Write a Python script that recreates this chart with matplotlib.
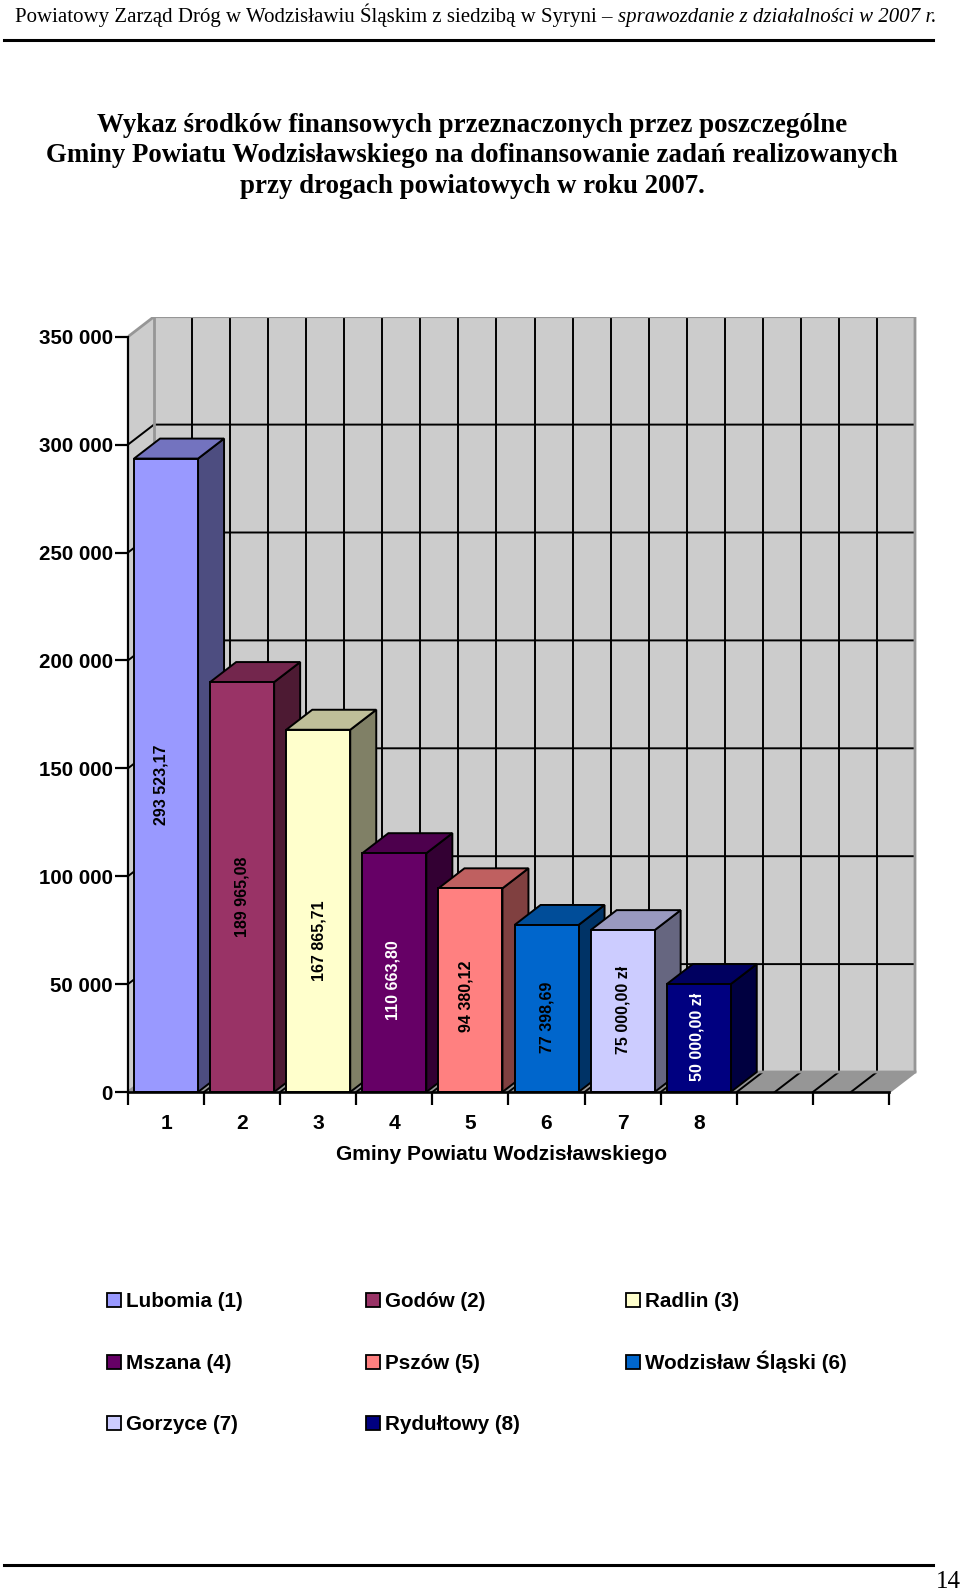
import matplotlib
matplotlib.use("Agg")
import matplotlib.pyplot as plt
from matplotlib.patches import Polygon, Rectangle
from matplotlib.lines import Line2D

W, H = 960, 1591

# Chart data
categories = [1, 2, 3, 4, 5, 6, 7, 8]
values = [293523.17, 189965.08, 167865.71, 110663.80, 94380.12, 77398.69, 75000.00, 50000.00]
value_labels = ["293 523,17", "189 965,08", "167 865,71", "110 663,80",
                "94 380,12", "77 398,69", "75 000,00 zł", "50 000,00 zł"]
legend_names = ["Lubomia (1)", "Godów (2)", "Radlin (3)", "Mszana (4)", "Pszów (5)",
                "Wodzisław Śląski (6)", "Gorzyce (7)", "Rydułtowy (8)"]
y_ticks = [0, 50000, 100000, 150000, 200000, 250000, 300000, 350000]
y_tick_labels = ["0", "50 000", "100 000", "150 000", "200 000", "250 000", "300 000", "350 000"]

# Styling
bar_colors = ["#9999FF", "#993366", "#FFFFCC", "#660066", "#FF8080", "#0066CC", "#CCCCFF", "#000080"]
label_colors = ["black", "black", "black", "white", "black", "black", "black", "white"]
label_levels = [142300, 90400, 70000, 51900, 44500, 34800, 38000, 25500]
label_shift_px = [-5, 0, 1, -1, -4, 0, 0, -2]
sans = "Liberation Sans"
serif = "Liberation Serif"

# Plot geometry, in pixels of the page
x_left, x_right = 128, 917
y_bottom, y_top = 1092, 317
cat_px = 76.1
val_px = 107.9 / 50000


def shade(color, f):
    rgb = matplotlib.colors.to_rgb(color)
    return tuple(c * f for c in rgb)


def fx(x):
    return x / W


def fy(y):
    return 1 - y / H


fig = plt.figure(figsize=(W / 100, H / 100), dpi=100, facecolor="white")
ax = fig.add_axes([fx(x_left), fy(y_bottom), (x_right - x_left) / W, (y_bottom - y_top) / H])
ax.set_xlim(0.5, 0.5 + (x_right - x_left) / cat_px)
ax.set_ylim(0, (y_bottom - y_top) / val_px)
ax.patch.set_visible(False)
for s in ax.spines.values():
    s.set_visible(False)

# depth of the 3d box in data units
dx = 26 / cat_px
dy = 20 / val_px
n_slots = 10
x0 = 0.5
x1 = x0 + n_slots
top = y_ticks[-1]
GRID = 1.4
EDGE = 1.4

# walls and floor
ax.add_patch(Polygon([(x0, 0), (x0 + dx, dy), (x0 + dx, top + dy), (x0, top)], fc="#CCCCCC", ec="none", zorder=1))
ax.add_patch(Polygon([(x0 + dx, dy), (x1 + dx, dy), (x1 + dx, top + dy), (x0 + dx, top + dy)], fc="#CCCCCC", ec="none", zorder=1))
ax.add_patch(Polygon([(x0, 0), (x1, 0), (x1 + dx, dy), (x0 + dx, dy)], fc="#969696", ec="none", zorder=1))

# grid
for v in y_ticks[1:-1]:
    ax.plot([x0, x0 + dx, x1 + dx], [v, v + dy, v + dy], color="black", lw=GRID, zorder=2)
for i in range(1, 2 * n_slots):
    xv = x0 + i / 2
    ax.plot([xv + dx, xv + dx], [dy, top + dy], color="black", lw=GRID, zorder=2)
    ax.plot([xv, xv + dx], [0, dy], color="black", lw=GRID, zorder=2)

# grey wall borders
wall_edge = "#969696"
ax.plot([x0, x0 + dx, x1 + dx, x1 + dx, x1], [top, top + dy, top + dy, dy, 0], color=wall_edge, lw=2, zorder=3)
ax.plot([x0, x0 + dx, x1 + dx], [0, dy, dy], color=wall_edge, lw=2, zorder=3)
ax.plot([x0 + dx, x0 + dx], [dy, top + dy], color=wall_edge, lw=2, zorder=3)

# bars, left to right so the later ones overlap the sides of the earlier ones
bar_w = 64 / cat_px
bar_dx = 26 / cat_px
for i, (c, v) in enumerate(zip(categories, values)):
    left = c - bar_w / 2
    right = c + bar_w / 2
    z = 4 + i * 0.1
    col = bar_colors[i]
    ax.add_patch(Polygon([(right, 0), (right + bar_dx, dy), (right + bar_dx, v + dy), (right, v)],
                         fc=shade(col, 0.5), ec="black", lw=EDGE, joinstyle="miter", zorder=z))
    ax.add_patch(Polygon([(left, v), (right, v), (right + bar_dx, v + dy), (left + bar_dx, v + dy)],
                         fc=shade(col, 0.75), ec="black", lw=EDGE, joinstyle="miter", zorder=z))
    ax.add_patch(Rectangle((left, 0), bar_w, v, fc=col, ec="black", lw=EDGE, joinstyle="miter", zorder=z))
    ax.annotate(value_labels[i], (c, label_levels[i]), xytext=(label_shift_px[i] * 0.72, 0),
                textcoords="offset points", rotation=90, ha="center", va="center",
                family=sans, weight="bold", fontsize=11.5, color=label_colors[i], zorder=z + 0.05)

# axes lines in front
ax.plot([x0, x0], [0, top], color="black", lw=1.6, zorder=6, clip_on=False)
ax.plot([x0, x1], [0, 0], color="black", lw=1.9, zorder=6, clip_on=False)

ax.set_yticks(y_ticks)
ax.set_yticklabels(y_tick_labels, family=sans, weight="bold", fontsize=14.8)
ax.tick_params(axis="y", length=9.4, width=1.6, pad=1.5)
ax.set_xticks([x0 + i for i in range(n_slots + 1)])
ax.set_xticklabels([])
ax.tick_params(axis="x", which="major", length=9.4, width=1.6)
ax.set_xticks(categories, minor=True)
ax.set_xticklabels([str(c) for c in categories], minor=True, family=sans, weight="bold", fontsize=15.1)
ax.tick_params(axis="x", which="minor", length=0, pad=16)
ax.set_xlabel("Gminy Powiatu Wodzisławskiego", family=sans, weight="bold", fontsize=15.1, labelpad=7)
ax.xaxis.set_label_coords((502 - x_left) / (x_right - x_left), -(1154 - y_bottom) / (y_bottom - y_top), transform=ax.transAxes)
ax.xaxis.label.set_va("center")

# legend
leg_cols = [107, 366, 626]
leg_rows = [1300, 1362, 1423]
for i, name in enumerate(legend_names):
    lx = leg_cols[i % 3]
    ly = leg_rows[i // 3]
    fig.add_artist(Rectangle((fx(lx), fy(ly + 7)), 14 / W, 14 / H, transform=fig.transFigure,
                             fc=bar_colors[i], ec="black", lw=1.3))
    fig.text(fx(lx + 19), fy(ly + 7), name, family=sans, weight="bold", fontsize=14.9, ha="left", va="baseline")

# title
title_lines = ["Wykaz środków finansowych przeznaczonych przez poszczególne",
               "Gminy Powiatu Wodzisławskiego na dofinansowanie zadań realizowanych",
               "przy drogach powiatowych w roku 2007."]
title_y = [132, 162, 193]
for line, ty in zip(title_lines, title_y):
    fig.text(fx(472), fy(ty), line, family=serif, weight="bold", fontsize=19.4, ha="center", va="baseline")

# page header
head = fig.text(fx(15), fy(22), "Powiatowy Zarząd Dróg w Wodzisławiu Śląskim z siedzibą w Syryni – ",
                family=serif, fontsize=15.03, ha="left", va="baseline")
fig.canvas.draw()
head_box = head.get_window_extent()
fig.text(head_box.x1 / W, fy(22), "sprawozdanie z działalności w 2007 r.",
         family=serif, style="italic", fontsize=15.03, ha="left", va="baseline")

# page rules and number
fig.add_artist(Line2D([fx(4), fx(933)], [fy(39.5), fy(39.5)], color="black", lw=2.2))
fig.add_artist(Line2D([fx(4), fx(933)], [fy(1564.5), fy(1564.5)], color="black", lw=2.2))
fig.text(fx(936), fy(1588), "14", family=serif, fontsize=18, ha="left", va="baseline")

fig.savefig("out.png", dpi=100, facecolor="white")
